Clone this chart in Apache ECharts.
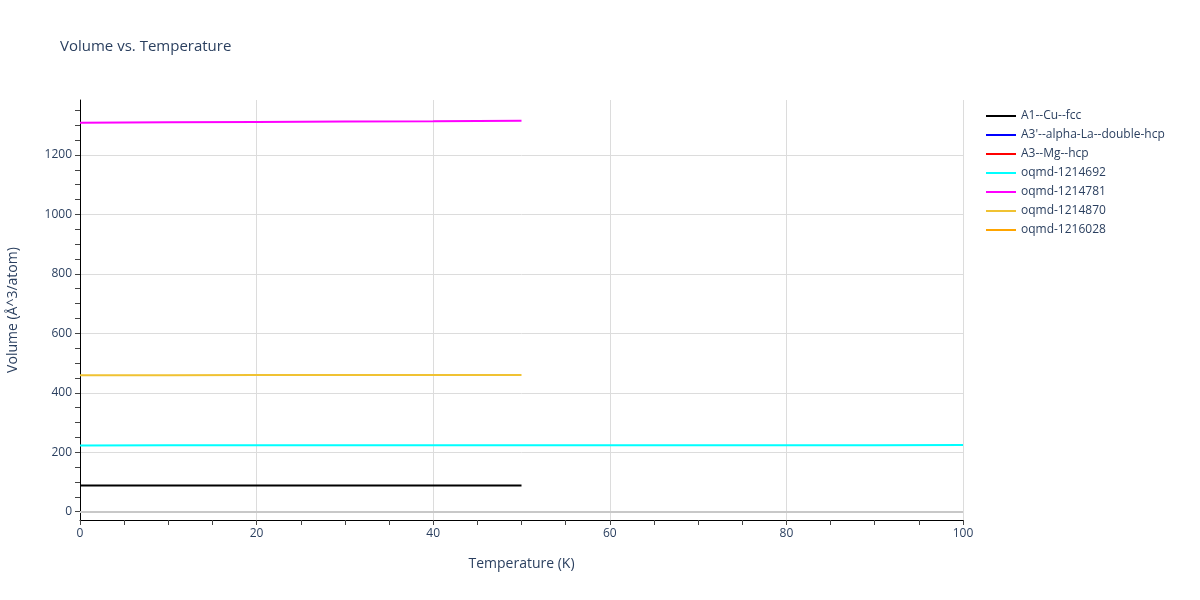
<!DOCTYPE html>
<html>
<head>
<meta charset="utf-8">
<script src="https://cdn.jsdelivr.net/npm/echarts@6/dist/echarts.min.js"></script>
<style>
html, body { margin: 0; padding: 0; background: #fff; }
#chart { width: 1200px; height: 600px; }
</style>
</head>
<body>
<div id="chart"></div>
<script>
// data
var seriesNames = ['A1--Cu--fcc', "A3'--alpha-La--double-hcp", 'A3--Mg--hcp',
	'oqmd-1214692', 'oqmd-1214781', 'oqmd-1214870', 'oqmd-1216028'];
var seriesColors = ['#000000', '#0000ff', '#ff0000', '#00ffff', '#ff00ff', '#f0c232', '#ffa500'];

var tempShort = [0, 10, 20, 30, 40, 50];
var tempLong = [0, 10, 20, 30, 40, 50, 60, 70, 80, 90, 100];

var volCu = [88.0, 88.0, 88.0, 88.1, 88.1, 88.1];
var volAlphaLa = [];
var volMg = [];
var vol1214692 = [223.0, 223.1, 223.2, 223.3, 223.4, 223.5, 223.6, 223.7, 223.8, 223.9, 224.0];
var vol1214781 = [1308.6, 1309.8, 1311.1, 1312.4, 1313.8, 1315.3];
var vol1214870 = [459.2, 459.3, 459.5, 459.6, 459.8, 460.0];
var vol1216028 = [];

var yTicks = [];
for (var v = 0; v <= 1350; v += 50) yTicks.push(v);
var yLabels = [0, 200, 400, 600, 800, 1000, 1200];

function pairs(xs, ys) {
	var out = [];
	for (var i = 0; i < ys.length; i++) out.push([xs[i], ys[i]]);
	return out;
}

var seriesData = [
	pairs(tempShort, volCu),
	pairs(tempShort, volAlphaLa),
	pairs(tempShort, volMg),
	pairs(tempLong, vol1214692),
	pairs(tempShort, vol1214781),
	pairs(tempShort, vol1214870),
	pairs(tempShort, vol1216028)
];

var textColor = '#2a3f5f';
var font = 'Open Sans, Noto Sans, sans-serif';

var series = [];
for (var i = 0; i < seriesNames.length; i++) {
	series.push({
		name: seriesNames[i],
		type: 'line',
		xAxisIndex: 1,
		yAxisIndex: 0,
		data: seriesData[i],
		showSymbol: false,
		symbol: 'none',
		lineStyle: { width: 2, color: seriesColors[i] },
		itemStyle: { color: seriesColors[i] },
		z: 3
	});
}
// zero line like plotly
series[0].markLine = {
	silent: true,
	symbol: 'none',
	label: { show: false },
	lineStyle: { color: '#c8c8c8', width: 2, type: 'solid' },
	data: [{ yAxis: 0 }],
	z: 1
};

var myChart = echarts.init(document.getElementById('chart'));
var option = {
	backgroundColor: '#fff',
	animation: false,
	textStyle: { fontFamily: font },
	title: {
		text: 'Volume vs. Temperature',
		left: 55,
		top: 34,
		textStyle: { color: textColor, fontSize: 15, fontWeight: 'normal', fontFamily: font }
	},
	legend: {
		orient: 'vertical',
		left: 980,
		top: 105,
		itemWidth: 30,
		itemHeight: 14,
		itemGap: 7,
		itemStyle: { opacity: 0 },
		textStyle: { color: textColor, fontSize: 12, fontFamily: font },
		data: seriesNames
	},
	grid: { left: 80, right: 237, top: 100, bottom: 80, containLabel: false, outerBoundsMode: 'none' },
	xAxis: [{
		type: 'value',
		min: 0,
		max: 100,
		interval: 20,
		position: 'bottom',
		axisLine: { show: false },
		axisTick: { show: false },
		axisLabel: { show: false },
		splitLine: { show: true, lineStyle: { color: '#dcdcdc', width: 1 } }
	}, {
		type: 'value',
		min: 0,
		max: 100,
		interval: 5,
		position: 'bottom',
		name: 'Temperature (K)',
		nameLocation: 'middle',
		nameGap: 37,
		nameTextStyle: { color: textColor, fontSize: 14, fontFamily: font },
		axisLine: { show: true, onZero: false, lineStyle: { color: '#000', width: 1 } },
		axisTick: { show: true, inside: false, length: 5, lineStyle: { color: '#444' } },
		axisLabel: {
			color: textColor, fontSize: 12, margin: 8, fontFamily: font,
			formatter: function (val) { return val % 20 === 0 ? String(val) : ''; }
		},
		splitLine: { show: false }
	}],
	yAxis: [{
		type: 'value',
		min: -28,
		max: 1385,
		position: 'left',
		name: 'Volume (Å^3/atom)',
		nameLocation: 'middle',
		nameGap: 60,
		nameTextStyle: { color: textColor, fontSize: 14, fontFamily: font },
		axisLine: { show: true, onZero: false, lineStyle: { color: '#000', width: 1 } },
		axisTick: { show: true, inside: false, length: 5, customValues: yTicks, lineStyle: { color: '#444' } },
		axisLabel: {
			color: textColor, fontSize: 12, margin: 8, customValues: yLabels, fontFamily: font,
			formatter: function (val) { return String(val); }
		},
		splitLine: { show: false }
	}, {
		type: 'value',
		min: -28,
		max: 1385,
		position: 'left',
		axisLine: { show: false, onZero: false },
		axisTick: { show: false, customValues: yLabels },
		axisLabel: { show: false, customValues: yLabels },
		splitLine: { show: true, lineStyle: { color: '#dcdcdc', width: 1 } }
	}],
	series: series
};
myChart.setOption(option);
</script>
</body>
</html>
